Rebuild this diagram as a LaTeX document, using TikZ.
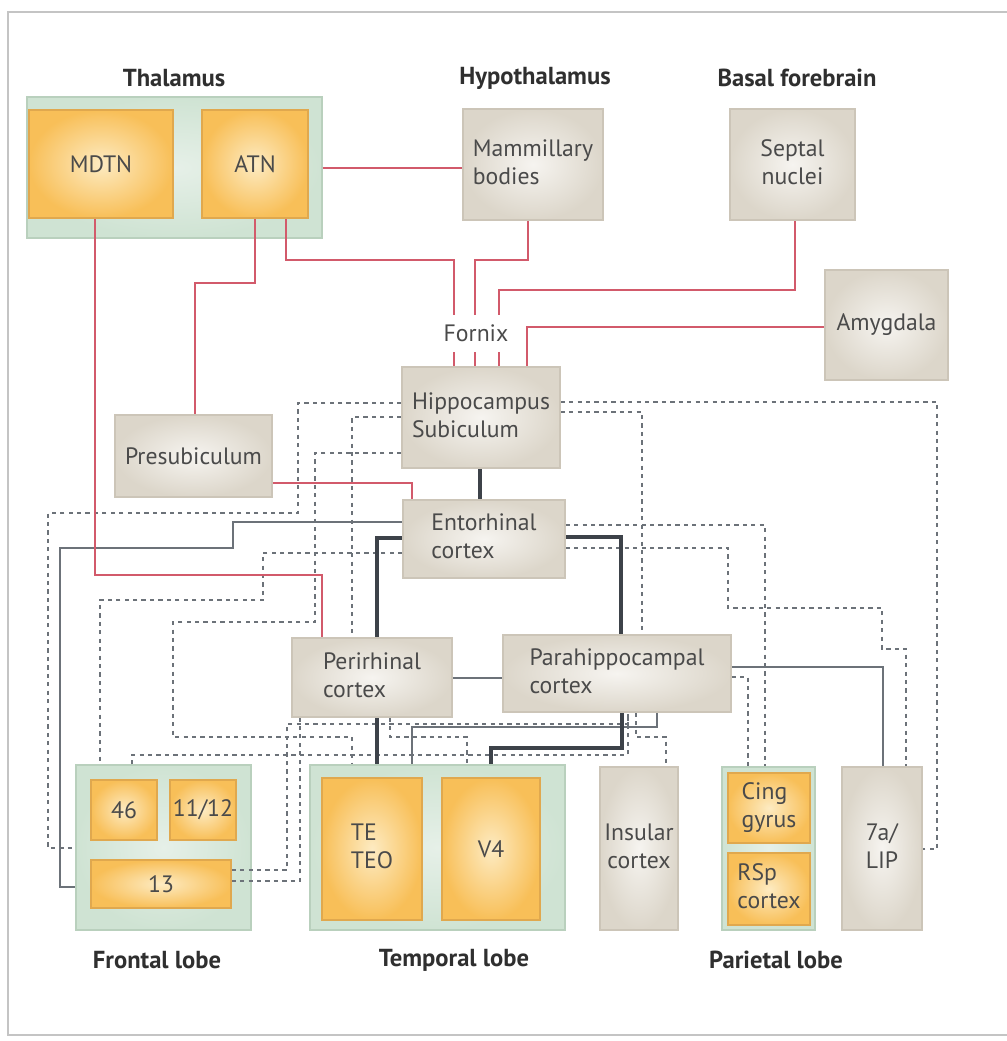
\documentclass[tikz,border=0pt]{standalone}
\usepackage{fontspec}
\setmainfont{PT Sans}
\definecolor{Frame}{HTML}{C4C4C4}
\definecolor{BoxLight}{HTML}{F6F4F0}
\definecolor{BoxDark}{HTML}{DCD6CA}
\definecolor{BoxEdge}{HTML}{CCC5B8}
\definecolor{CoreLight}{HTML}{FDEBC2}
\definecolor{CoreDark}{HTML}{F8BF58}
\definecolor{CoreEdge}{HTML}{E0A84E}
\definecolor{LobeLight}{HTML}{E6F0E8}
\definecolor{LobeDark}{HTML}{CFE3D3}
\definecolor{LobeEdge}{HTML}{B9D0BD}
\definecolor{FornixRed}{HTML}{D25A6B}
\definecolor{Slate}{HTML}{3D4249}
\definecolor{Steel}{HTML}{6C7279}
\definecolor{Label}{HTML}{4A4A4A}
\definecolor{Heading}{HTML}{2F2F2F}
\pgfdeclarelayer{lobes}
\pgfdeclarelayer{wires}
\pgfsetlayers{lobes,wires,main}
\newcommand{\leftlines}[1]{\begin{tabular}{@{}l@{}}#1\end{tabular}}
\newcommand{\midlines}[1]{\begin{tabular}{@{}c@{}}#1\end{tabular}}
\tikzset{
  dims/.style 2 args={minimum width=#1*0.02cm, minimum height=#2*0.02cm},
  area/.style={
    inner sep=0pt, draw=BoxEdge, line width=0.8pt, shading=radial,
    inner color=BoxLight, outer color=BoxDark, text=Label,
    font=\fontsize{13.5}{16}\selectfont
  },
  core/.style={area, draw=CoreEdge, inner color=CoreLight, outer color=CoreDark},
  lobe/.style={
    inner sep=0pt, draw=LobeEdge, line width=0.8pt, shading=radial,
    inner color=LobeLight, outer color=LobeDark
  },
  heading/.style={text=Heading, font=\fontsize{14}{16}\selectfont\bfseries},
  fornixline/.style={draw=FornixRed, line width=1.2pt},
  strongpath/.style={draw=Slate, line width=2.4pt},
  sidepath/.style={draw=Steel, line width=1.4pt},
  weakpath/.style={draw=Steel, line width=1.5pt, dash pattern=on 2.4pt off 2.4pt}
}
\begin{document}
\begin{tikzpicture}[x=0.02cm, y=-0.02cm]
  \useasboundingbox (0,0) rectangle (1007,1041);
  \draw[Frame, line width=1pt] (1007,12) -- (8,12) -- (8,1035) -- (1007,1035);

  % headings
  \node[heading] (thalhead) at (174,78) {Thalamus};
  \node[heading] (hypohead) at (535,78) {Hypothalamus};
  \node[heading] (basalhead) at (797,78) {Basal forebrain};
  \node[heading] (fronthead) at (157,960) {Frontal lobe};
  \node[heading] (temphead) at (454,960) {Temporal lobe};
  \node[heading] (parhead) at (776,960) {Parietal lobe};

  % lobes
  \begin{pgfonlayer}{lobes}
    \node[lobe, dims={295}{141}] (thal) at (174.5,167.5) {};
    \node[lobe, dims={175}{165}] (frontal) at (163.5,847.5) {};
    \node[lobe, dims={255}{165}] (temporal) at (437.5,847.5) {};
    \node[lobe, dims={93}{163}] (parietal) at (768.5,848.5) {};
  \end{pgfonlayer}

  % areas
  \node[core, dims={144}{108}] (mdtn) at (101,164) {MDTN};
  \node[core, dims={106}{108}] (atn) at (255,164) {ATN};
  \node[area, dims={140}{111}] (mammi) at (533,164.5) {\leftlines{Mammillary\\bodies}};
  \node[area, dims={125}{111}] (septal) at (792.5,164.5) {\midlines{Septal\\nuclei}};
  \node[area, dims={123}{110}] (amyg) at (886.5,325) {Amygdala};
  \node[area, dims={158}{101}] (hippo) at (481,417.5) {\leftlines{Hippocampus\\Subiculum}};
  \node[area, dims={157}{82}] (presub) at (193.5,456) {Presubiculum};
  \node[area, dims={162}{78}] (ento) at (484,539) {\leftlines{Entorhinal\\cortex}};
  \node[area, dims={160}{79}] (peri) at (372,677.5) {\leftlines{Perirhinal\\cortex}};
  \node[area, dims={228}{77}] (parahip) at (617,673.5) {\leftlines{Parahippocampal\\cortex}};
  \node[core, dims={66}{60}] (a46) at (124,810) {46};
  \node[core, dims={66}{60}] (a1112) at (203,810) {11/12};
  \node[core, dims={140}{48}] (a13) at (161,884) {13};
  \node[core, dims={100}{142}] (teteo) at (372,849) {\leftlines{TE\\TEO}};
  \node[core, dims={98}{142}] (v4) at (491,849) {V4};
  \node[area, dims={78}{163}] (insular) at (639,848.5) {\midlines{Insular\\cortex}};
  \node[core, dims={82}{70}] (cing) at (769,808) {\leftlines{Cing\\gyrus}};
  \node[core, dims={82}{72}] (rsp) at (769,889) {\leftlines{RSp\\cortex}};
  \node[area, dims={80}{163}] (lip) at (882,848.5) {\leftlines{7a/\\LIP}};
  \node[fill=white, inner xsep=1.5pt, minimum height=0.74cm, text=Label,
    font=\fontsize{13.5}{16}\selectfont] (fornix) at (476,333) {Fornix};

  \begin{pgfonlayer}{wires}
    % weak connections
    \draw[weakpath] (hippo.west |- 0,403) -| (298,513) -- (48,513) |- (frontal.west |- 0,848);
    \draw[weakpath] (hippo.west |- 0,417) -| (peri.north -| 352,0);
    \draw[weakpath] (hippo.west |- 0,453) -| (315,622) -- (173,622) |- (352,737) -- (temporal.north -| 352,0);
    \draw[weakpath] (ento.west |- 0,553) -| (263,600) -- (100,600) -- (frontal.north -| 100,0);
    \draw[weakpath] (a13.east |- 0,870) -- (287,870) |- (628,724) -- (parahip.south -| 628,0);
    \draw[weakpath] (a13.east |- 0,881) -| (peri.south -| 300,0);
    \draw[weakpath] (frontal.north -| 132,0) |- (628,755) -- (parahip.south -| 628,0);
    \draw[weakpath] (parahip.south -| 636,0) |- (666,737) -- (insular.north -| 666,0);
    \draw[weakpath] (peri.south -| 390,0) |- (467,737) -- (temporal.north -| 467,0);
    \draw[weakpath] (hippo.east |- 0,402) -| (937,849) -- (lip.east |- 0,849);
    \draw[weakpath] (hippo.east |- 0,412) -| (parahip.north -| 642,0);
    \draw[weakpath] (ento.east |- 0,525) -| (parietal.north -| 765,0);
    \draw[weakpath] (ento.east |- 0,548) -| (728,608) -| (882,649) -| (lip.north -| 906,0);
    \draw[weakpath] (parahip.east |- 0,677) -| (parietal.north -| 748,0);
    % side connections
    \draw[sidepath] (ento.west |- 0,522) -| (233,548) -- (60,548) |- (frontal.west |- 0,887);
    \draw[sidepath] (peri.east |- 0,678) -- (parahip.west |- 0,678);
    \draw[sidepath] (parahip.east |- 0,667) -| (lip.north -| 883,0);
    \draw[sidepath] (parahip.south -| 657,0) |- (412,727) -- (temporal.north -| 412,0);
    % strong connections
    \draw[strongpath] (hippo.south -| 480,0) -- (ento.north -| 480,0);
    \draw[strongpath] (ento.west |- 0,538) -| (peri.north -| 377,0);
    \draw[strongpath] (ento.east |- 0,537) -| (parahip.north -| 621,0);
    \draw[strongpath] (peri.south -| 377,0) -- (temporal.north -| 377,0);
    \draw[strongpath] (parahip.south -| 622,0) |- (491,748) -- (temporal.north -| 491,0);
    % fornix system
    \draw[fornixline] (thal.east |- 0,168) -- (mammi.west |- 0,168);
    \draw[fornixline] (mdtn.south -| 95,0) |- (322,575) -- (peri.north -| 322,0);
    \draw[fornixline] (atn.south -| 255,0) |- (195,283) -- (presub.north -| 195,0);
    \draw[fornixline] (atn.south -| 286,0) |- (454,260) -- (hippo.north -| 454,0);
    \draw[fornixline] (mammi.south -| 528,0) |- (475,260) -- (hippo.north -| 475,0);
    \draw[fornixline] (septal.south -| 795,0) |- (499,290) -- (hippo.north -| 499,0);
    \draw[fornixline] (amyg.west |- 0,327) -| (hippo.north -| 527,0);
    \draw[fornixline] (presub.east |- 0,483) -| (ento.north -| 412,0);
  \end{pgfonlayer}
\end{tikzpicture}
\end{document}
